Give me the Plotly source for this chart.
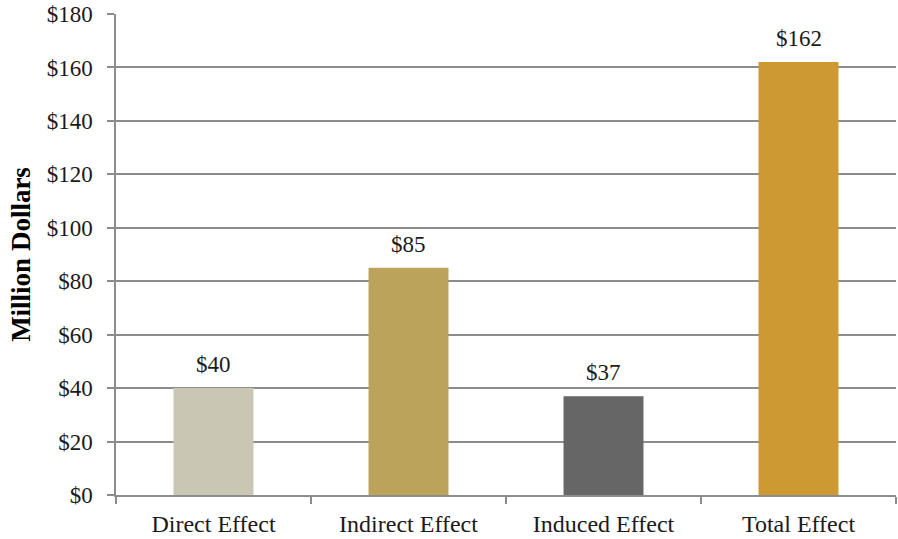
import plotly.graph_objects as go

categories = ["Direct Effect", "Indirect Effect", "Induced Effect", "Total Effect"]
values = [40, 85, 37, 162]
bar_colors = ["#C9C7B3", "#BBA35A", "#666666", "#CC9933"]
y_ticks = list(range(0, 181, 20))
y_tick_labels = [f"${v}" for v in y_ticks]

FONT = "Liberation Serif"
AXIS_GRAY = "#8C8C8C"
TEXT = "#1a1a1a"

fig = go.Figure(
    go.Bar(
        x=categories,
        y=values,
        marker=dict(color=bar_colors, line=dict(width=0)),
        hoverinfo="skip",
    )
)

# value labels above each bar
for cat, val in zip(categories, values):
    fig.add_annotation(
        x=cat, y=val, text=f"${val}", showarrow=False,
        yanchor="bottom", yshift=9,
        font=dict(family=FONT, size=23, color=TEXT),
    )

fig.update_layout(
    width=898, height=539,
    margin=dict(l=116, r=2, t=12, b=43),
    paper_bgcolor="white", plot_bgcolor="white",
    bargap=0.59,
    showlegend=False,
    font=dict(family=FONT, size=23, color=TEXT),
    xaxis=dict(
        showline=True, linecolor=AXIS_GRAY, linewidth=1.5,
        ticks="outside", tickson="boundaries", ticklen=7,
        tickcolor=AXIS_GRAY, tickwidth=1.5,
        showgrid=False,
        ticklabelstandoff=6,
        tickfont=dict(family=FONT, size=24, color=TEXT),
    ),
    yaxis=dict(
        range=[0, 180],
        tickvals=y_ticks, ticktext=y_tick_labels,
        showline=True, linecolor=AXIS_GRAY, linewidth=1.5,
        ticks="outside", ticklen=7, tickcolor=AXIS_GRAY, tickwidth=1.5,
        showgrid=True, gridcolor=AXIS_GRAY, gridwidth=1.5,
        zeroline=False,
        ticklabelstandoff=10,
        tickfont=dict(family=FONT, size=23, color=TEXT),
        title=dict(text="<b>Million Dollars</b>",
                   font=dict(family=FONT, size=27, color="#000000"),
                   standoff=8),
    ),
)

fig.write_html("out.html")
